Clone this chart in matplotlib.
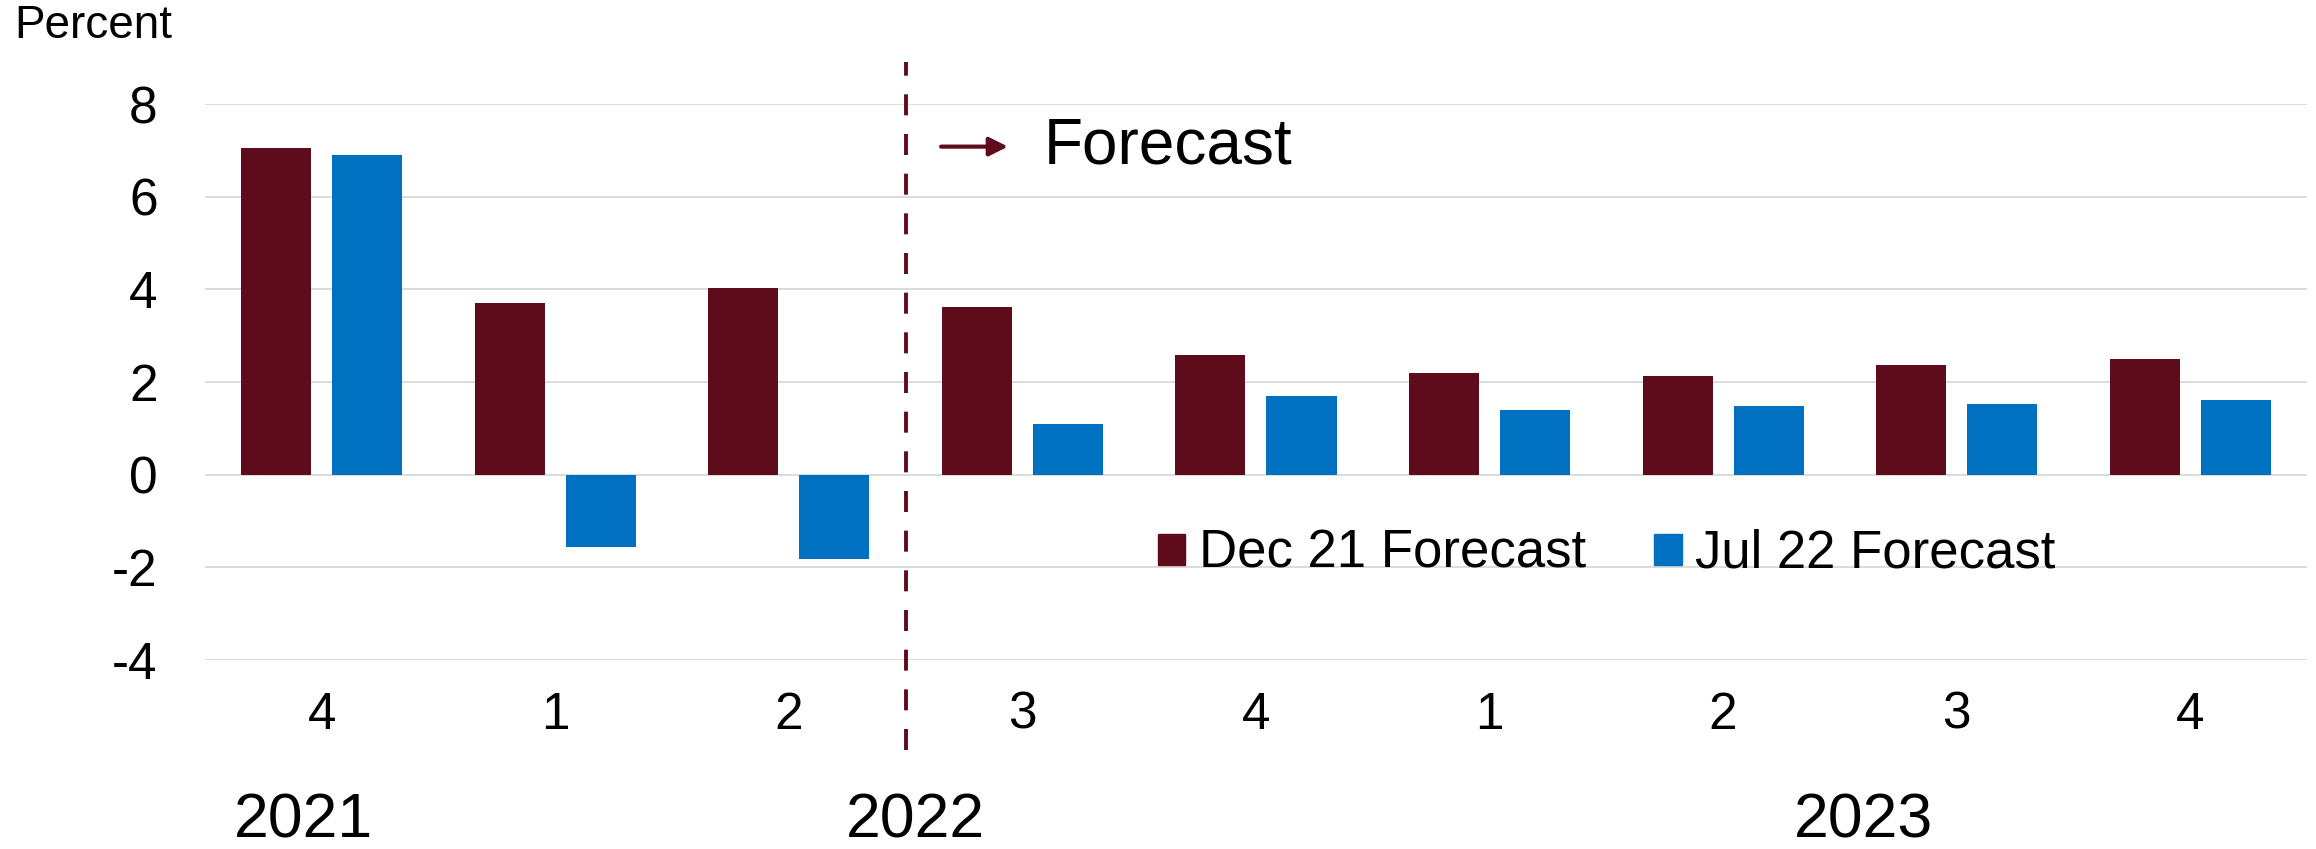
#!/usr/bin/env python3
"""GDP growth forecasts by quarter: Dec 21 vs Jul 22 forecast."""

import matplotlib
matplotlib.use("Agg")
import matplotlib.pyplot as plt
from matplotlib.patches import Patch

plt.rcParams['font.family'] = ['Liberation Sans', 'DejaVu Sans']
plt.rcParams['axes.unicode_minus'] = False

# Data
quarters = ["4", "1", "2", "3", "4", "1", "2", "3", "4"]
years = ["2021", "2022", "2023"]
year_pos = [-0.08, 2.54, 6.60]
dec21 = [7.06, 3.70, 4.02, 3.62, 2.59, 2.19, 2.12, 2.36, 2.50]
jul22 = [6.90, -1.56, -1.81, 1.09, 1.69, 1.39, 1.48, 1.52, 1.61]
forecast_start = 3  # index of first forecast quarter
series_names = ["Dec 21 Forecast", "Jul 22 Forecast"]

MAROON = "#5E0B1C"
BLUE = "#0070C0"
GRID = "#D9D9D9"


def main():
    fig = plt.figure(figsize=(23.16, 8.49), dpi=100)
    ax = fig.add_axes([0.0885, 0.2226, 0.9076, 0.6549])

    x = list(range(len(quarters)))
    width = 0.30
    off = 0.195
    ax.bar([i - off for i in x], dec21, width, color=MAROON, zorder=3)
    ax.bar([i + off for i in x], jul22, width, color=BLUE, zorder=3)

    ax.set_xlim(-0.5, len(quarters) - 0.5)
    ax.set_ylim(-4, 8)
    ax.set_yticks(range(-4, 9, 2))
    ax.set_xticks(x)
    ax.set_xticklabels(quarters)
    ax.yaxis.grid(True, color=GRID, linewidth=1.3, zorder=0)
    ax.set_axisbelow(True)
    for s in ax.spines.values():
        s.set_visible(False)
    ax.tick_params(axis='y', length=0, pad=34, labelsize=37)
    ax.tick_params(axis='x', length=0, pad=22, labelsize=37)

    # forecast divider
    xdiv = forecast_start - 0.5
    ax.plot([xdiv, xdiv], [-5.95, 8.91], color=MAROON, lw=2.8,
            linestyle=(0, (5.4, 4.8)), clip_on=False, zorder=4)
    ax.annotate("", xy=(2.95, 7.08), xytext=(2.64, 7.08),
                arrowprops=dict(arrowstyle='-|>', color=MAROON, lw=3,
                                mutation_scale=28))
    ax.text(3.09, 7.08, "Forecast", fontsize=46, ha='left', va='center')

    # year labels
    for yp, yr in zip(year_pos, years):
        ax.text(yp, -7.48, yr, fontsize=45, ha='center', va='center',
                clip_on=False)

    fig.text(0.006, 0.995, "Percent", fontsize=33, ha='left', va='top')

    handles = [Patch(color=MAROON), Patch(color=BLUE)]
    ax.legend(handles, series_names, ncol=2, frameon=False, fontsize=38,
              loc='center left', bbox_to_anchor=(3.58, -1.71),
              bbox_transform=ax.transData, borderpad=0, borderaxespad=0,
              handlelength=0.52, handleheight=0.52, handletextpad=0.25,
              columnspacing=1.3)

    fig.savefig("out.png", dpi=100)
    plt.close(fig)


if __name__ == "__main__":
    main()
